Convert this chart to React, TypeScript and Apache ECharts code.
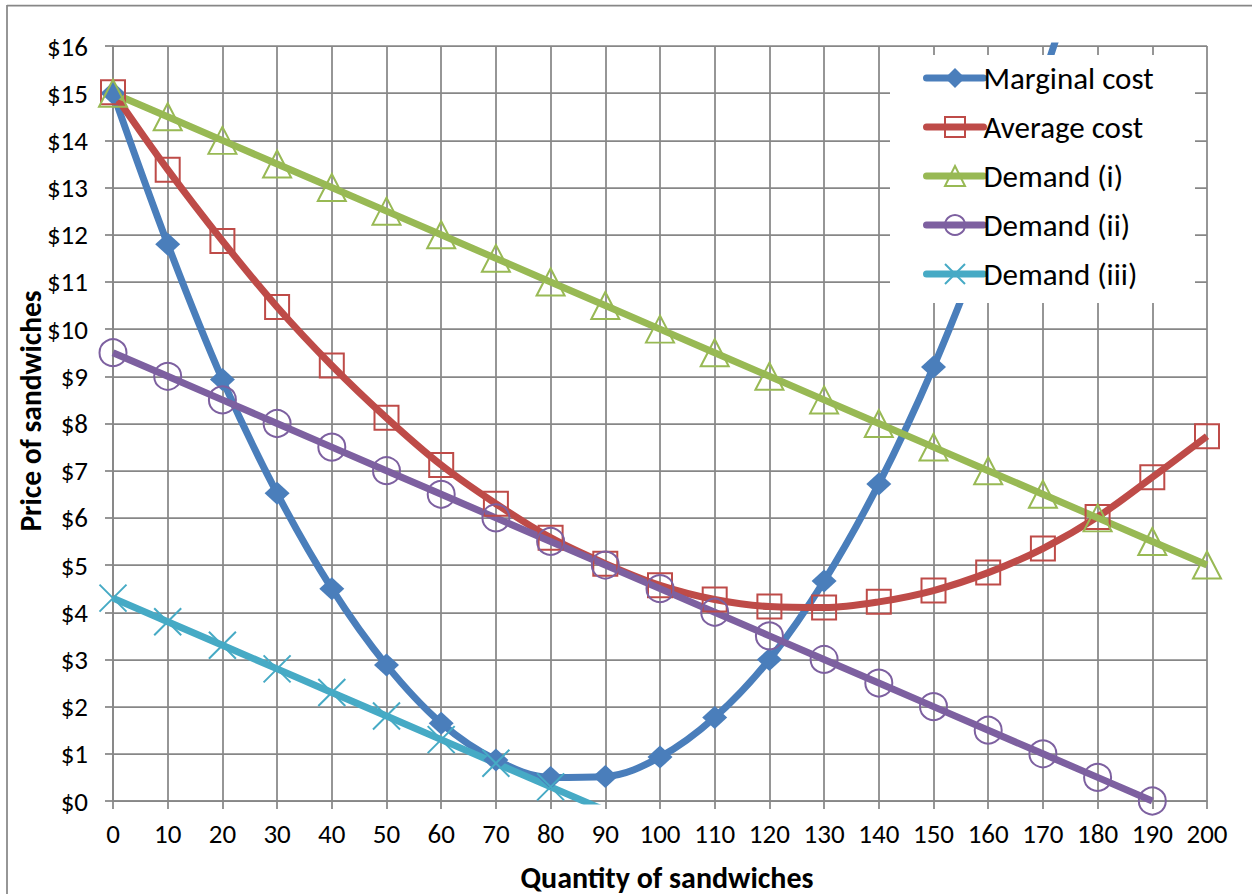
import React, { useEffect, useRef } from "react";
import * as echarts from "echarts";

// Quantity of sandwiches (x positions of the data points)
const quantities = [0, 10, 20, 30, 40, 50, 60, 70, 80, 90, 100, 110, 120, 130, 140, 150, 160, 170, 180, 190, 200];

// Prices (dollars)
const marginalCost = [15.0, 11.8, 8.93, 6.52, 4.5, 2.88, 1.65, 0.87, 0.5, 0.52, 0.93, 1.77, 3.0, 4.66, 6.72, 9.2, 12.1, 15.3, 19.0];
const averageCost = [15.02, 13.38, 11.87, 10.47, 9.23, 8.12, 7.12, 6.3, 5.58, 5.03, 4.57, 4.27, 4.12, 4.1, 4.22, 4.46, 4.84, 5.35, 6.02, 6.86, 7.73];
const demandI = [15, 14.5, 14, 13.5, 13, 12.5, 12, 11.5, 11, 10.5, 10, 9.5, 9, 8.5, 8, 7.5, 7, 6.5, 6, 5.5, 5];
const demandII = [9.5, 9, 8.5, 8, 7.5, 7, 6.5, 6, 5.5, 5, 4.5, 4, 3.5, 3, 2.5, 2, 1.5, 1, 0.5, 0];
const demandIII = [4.3, 3.8, 3.3, 2.8, 2.3, 1.8, 1.3, 0.8, 0.3, -0.2];

const seriesNames = ["Marginal cost", "Average cost", "Demand (i)", "Demand (ii)", "Demand (iii)"];
const seriesColors = ["#4A7EBB", "#BE4B48", "#98B954", "#7D60A0", "#46AAC5"];

const xAxisTitle = "Quantity of sandwiches";
const yAxisTitle = "Price of sandwiches";

const FONT = "Carlito, Lato, 'Open Sans', sans-serif";
const GRID_COLOR = "#878787";
const LINE_W = 7;

function pairs(values: number[]) {
  return values.map((v, i) => [quantities[i], v]);
}

export default function App() {
  const ref = useRef<HTMLDivElement>(null);

  useEffect(() => {
    if (!ref.current) return;
    const chart = echarts.init(ref.current, undefined, { renderer: "svg" });

    const hollow = (color: string, width = 2) => ({
      color: "rgba(0,0,0,0)",
      borderColor: color,
      borderWidth: width,
    });

    const option: any = {
      animation: false,
      backgroundColor: "#ffffff",
      textStyle: { fontFamily: FONT, color: "#000" },
      grid: { left: 113, right: 45, top: 46, bottom: 93, containLabel: false },
      xAxis: {
        type: "value",
        min: 0,
        max: 200,
        interval: 10,
        axisLine: { show: true, lineStyle: { color: GRID_COLOR, width: 1.75 } },
        axisTick: { show: true, inside: false, length: 8, lineStyle: { color: GRID_COLOR, width: 1.75 } },
        axisLabel: { fontFamily: FONT, fontSize: 27, color: "#000", margin: 19 },
        splitLine: { show: true, lineStyle: { color: GRID_COLOR, width: 1.75 } },
      },
      yAxis: {
        type: "value",
        min: 0,
        max: 16,
        interval: 1,
        axisLine: { show: true, lineStyle: { color: GRID_COLOR, width: 1.75 } },
        axisTick: { show: true, inside: false, length: 8, lineStyle: { color: GRID_COLOR, width: 1.75 } },
        axisLabel: {
          fontFamily: FONT,
          fontSize: 27,
          color: "#000",
          margin: 25,
          formatter: (v: number) => "$" + v,
        },
        splitLine: { show: true, lineStyle: { color: GRID_COLOR, width: 1.75 } },
      },
      legend: {
        orient: "vertical",
        left: 923,
        top: 62.5,
        itemWidth: 57,
        itemHeight: 25,
        itemGap: 18,
        padding: 0,
        data: seriesNames,
        lineStyle: { width: LINE_W, cap: "round" },
        textStyle: { fontFamily: FONT, fontSize: 31, color: "#000", padding: [0, 0, 0, -5] },
        selectedMode: false,
        z: 5,
      },
      graphic: [
        // frame of the chart area
        { type: "line", shape: { x1: 7, y1: 5.5, x2: 1252, y2: 5.5 }, style: { stroke: GRID_COLOR, lineWidth: 1.75 }, z: 1 },
        { type: "line", shape: { x1: 7, y1: 5, x2: 7, y2: 894 }, style: { stroke: GRID_COLOR, lineWidth: 1.75 }, z: 1 },
        // legend background
        { type: "rect", shape: { x: 890, y: 55, width: 305, height: 248 }, style: { fill: "#ffffff" }, z: 4 },
        // axis titles
        {
          type: "text",
          x: 667,
          y: 877,
          style: {
            text: xAxisTitle,
            font: "bold 30px " + FONT,
            fill: "#000",
            align: "center",
            verticalAlign: "middle",
          },
          z: 5,
        },
        {
          type: "text",
          x: 31,
          y: 411,
          rotation: Math.PI / 2,
          style: {
            text: yAxisTitle,
            font: "bold 29.5px " + FONT,
            fill: "#000",
            align: "center",
            verticalAlign: "middle",
          },
          z: 5,
        },
      ],
      series: [
        {
          name: seriesNames[0],
          type: "line",
          data: pairs(marginalCost),
          smooth: 0.35,
          clip: true,
          symbol: "diamond",
          symbolSize: [25, 23],
          itemStyle: { color: seriesColors[0] },
          lineStyle: { color: seriesColors[0], width: LINE_W },
          emphasis: { disabled: true },
        },
        {
          name: seriesNames[1],
          type: "line",
          data: pairs(averageCost),
          smooth: 0.35,
          clip: true,
          symbol: "rect",
          symbolSize: 24,
          itemStyle: hollow(seriesColors[1]),
          lineStyle: { color: seriesColors[1], width: LINE_W },
          emphasis: { disabled: true },
        },
        {
          name: seriesNames[2],
          type: "line",
          data: pairs(demandI),
          clip: true,
          symbol: "triangle",
          symbolSize: [28, 27],
          itemStyle: hollow(seriesColors[2]),
          lineStyle: { color: seriesColors[2], width: LINE_W },
          emphasis: { disabled: true },
        },
        {
          name: seriesNames[3],
          type: "line",
          data: pairs(demandII),
          clip: true,
          symbol: "circle",
          symbolSize: 27,
          itemStyle: hollow(seriesColors[3]),
          lineStyle: { color: seriesColors[3], width: LINE_W },
          emphasis: { disabled: true },
        },
        {
          name: seriesNames[4],
          type: "line",
          data: pairs(demandIII),
          clip: true,
          symbol: "path://M0,0L20,20M20,0L0,20",
          symbolSize: 27,
          itemStyle: hollow(seriesColors[4], 2),
          lineStyle: { color: seriesColors[4], width: LINE_W },
          emphasis: { disabled: true },
        },
      ],
    };

    chart.setOption(option);
    return () => chart.dispose();
  }, []);

  return (
    <div
      ref={ref}
      style={{ position: "fixed", left: 0, top: 0, width: 1252, height: 894, background: "#fff" }}
    />
  );
}
